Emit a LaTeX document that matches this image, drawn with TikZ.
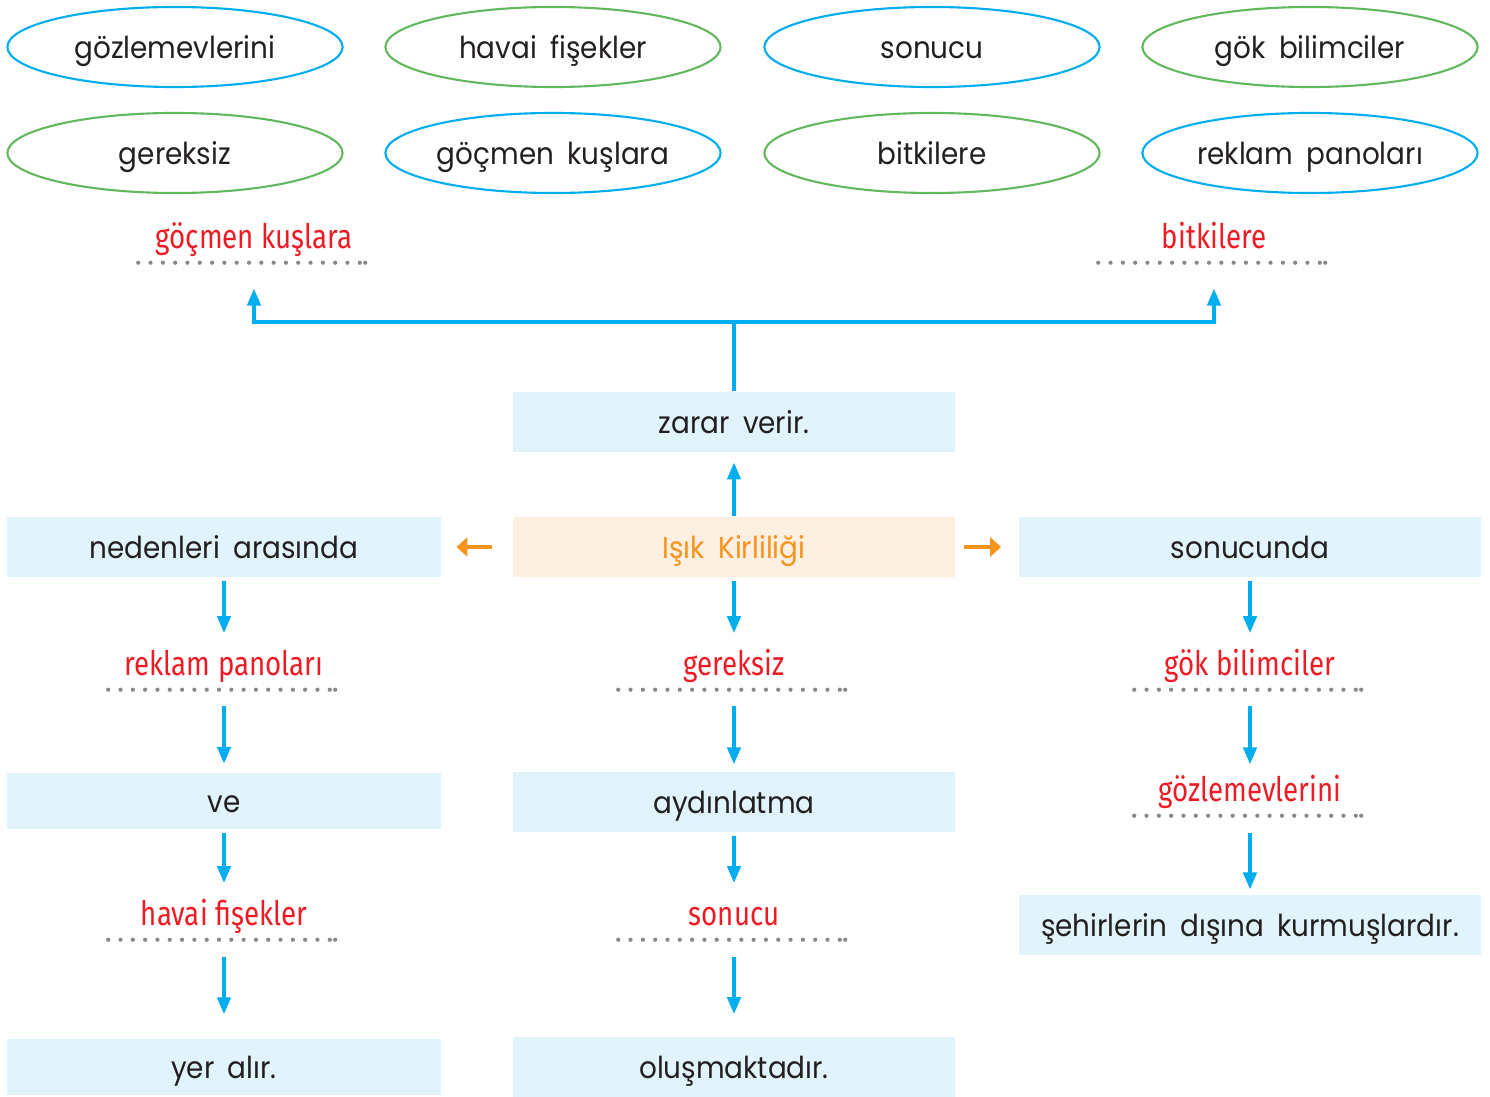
\documentclass[tikz,border=0pt]{standalone}
\usepackage{fontspec}
\setmainfont{Poppins}[WordSpace=1.8, FakeStretch=0.92]
\newfontfamily\answerfont{Fira Sans}[FakeStretch=0.82]
\usetikzlibrary{positioning,shapes.geometric,arrows.meta}

\definecolor{kblue}{HTML}{00AEEF}
\definecolor{kgreen}{HTML}{62B85C}
\definecolor{kred}{HTML}{ED1C24}
\definecolor{korange}{HTML}{F7941D}
\definecolor{boxblue}{HTML}{E1F3FB}
\definecolor{boxpeach}{HTML}{FDEFE1}
\definecolor{dotgray}{HTML}{86888A}
\definecolor{inkblack}{HTML}{231F20}

\begin{document}
\begin{tikzpicture}[x=0.01cm,y=-0.01cm,
  every node/.style={font=\fontsize{8.6}{10}\selectfont, text=inkblack, inner sep=0pt,
    text height=7.4pt, text depth=0.6pt},
  word/.style={ellipse, draw=#1, line width=0.6pt, inner xsep=-2mm,
    minimum width=3.35cm, minimum height=0.8cm},
  panel/.style={fill=boxblue, minimum height=0.6cm},
  answer/.style={text=kred, font=\answerfont\fontsize{9.6}{11}\selectfont,
    minimum width=2.3cm, minimum height=0.5cm},
  dots/.style={dotgray, line width=1.2pt, line cap=round, dash pattern=on 0pt off 3.5pt},
  flow/.style={kblue, line width=0.95pt, -{Triangle[length=4.8pt,width=3.8pt]},
    shorten <=1pt, shorten >=1.5pt},
  sideflow/.style={korange, line width=0.95pt, -{Triangle[length=3.1pt,width=5.4pt]}}
]
\useasboundingbox (0,0) rectangle (1490,1097);

% word bank
\node[word=kblue]  (w1) at (175,47)  {gözlemevlerini};
\node[word=kgreen] (w2) at (553,47)  {havai fişekler};
\node[word=kblue]  (w3) at (932,47)  {sonucu};
\node[word=kgreen] (w4) at (1310,47) {gök bilimciler};
\node[word=kgreen] (w5) at (175,153) {gereksiz};
\node[word=kblue]  (w6) at (553,153) {göçmen kuşlara};
\node[word=kgreen] (w7) at (932,153) {bitkilere};
\node[word=kblue]  (w8) at (1310,153) {reklam panoları};

% centre
\node[panel, fill=boxpeach, text=korange, minimum width=4.42cm] (isik) at (734,547) {Işık Kirliliği};
\node[panel, minimum width=4.42cm] (zarar) at (734,422) {zarar verir.};
\node[panel, minimum width=4.42cm] (aydin) at (734,802) {aydınlatma};
\node[panel, minimum width=4.42cm] (olus) at (734,1067) {oluşmaktadır.};

% left column
\node[panel, minimum width=4.33cm] (neden) at (224,547) {nedenleri arasında};
\node[panel, minimum width=4.33cm, minimum height=0.55cm] (ve) at (224,801) {ve};
\node[panel, minimum width=4.33cm, minimum height=0.55cm] (yer) at (224,1067) {yer alır.};

% right column
\node[panel, minimum width=4.61cm] (sonuc) at (1250,547) {sonucunda};
\node[panel, minimum width=4.61cm] (sehir) at (1250,925) {şehirlerin dışına kurmuşlardır.};

% answers
\node[answer] (aKus)   at (254,237)  {göçmen kuşlara};
\node[answer] (aBitki) at (1214,237) {bitkilere};
\node[answer] (aPano)  at (224,664)  {reklam panoları};
\node[answer] (aHavai) at (224,914)  {havai fişekler};
\node[answer] (aGerek) at (734,664)  {gereksiz};
\node[answer] (aSonu)  at (734,914)  {sonucu};
\node[answer] (aGok)   at (1250,664) {gök bilimciler};
\node[answer] (aGozl)  at (1250,790) {gözlemevlerini};
\foreach \a in {aKus,aBitki,aPano,aHavai,aGerek,aSonu,aGok,aGozl} {
  \draw[dots] (\a.south west) -- (\a.south east);
  \fill[dotgray] ([xshift=-1.3pt]\a.south east) circle (0.6pt);
}

% connectors
\coordinate (fork) at (734,322);
\draw[flow, shorten <=0pt, shorten >=7.4pt] (zarar.north) -- (fork) -| (aKus.south);
\draw[flow, shorten <=0pt, shorten >=7.4pt] (zarar.north) -- (fork) -| (aBitki.south);
\draw[flow, shorten <=0pt, shorten >=2.8pt] (isik.north) -- (zarar.south);
\draw[sideflow, shorten <=5.7pt, shorten >=4.3pt] (isik.west) -- (neden.east);
\draw[sideflow, shorten <=2.3pt, shorten >=5pt] (isik.east) -- (sonuc.west);

\draw[flow] (neden.south) -- (aPano.north);
\draw[flow, shorten <=4.6pt, shorten >=2.6pt] (aPano.south) -- (ve.north);
\draw[flow] (ve.south) -- (aHavai.north);
\draw[flow, shorten <=4.8pt, shorten >=7pt] (aHavai.south) -- (yer.north);

\draw[flow] (isik.south) -- (aGerek.north);
\draw[flow, shorten <=4.6pt, shorten >=2pt] (aGerek.south) -- (aydin.north);
\draw[flow] (aydin.south) -- (aSonu.north);
\draw[flow, shorten <=4.8pt, shorten >=6.3pt] (aSonu.south) -- (olus.north);

\draw[flow] (sonuc.south) -- (aGok.north);
\draw[flow, shorten <=4.6pt, shorten >=0pt] (aGok.south) -- (aGozl.north);
\draw[flow, shorten <=5pt, shorten >=1.4pt] (aGozl.south) -- (sehir.north);
\end{tikzpicture}
\end{document}
